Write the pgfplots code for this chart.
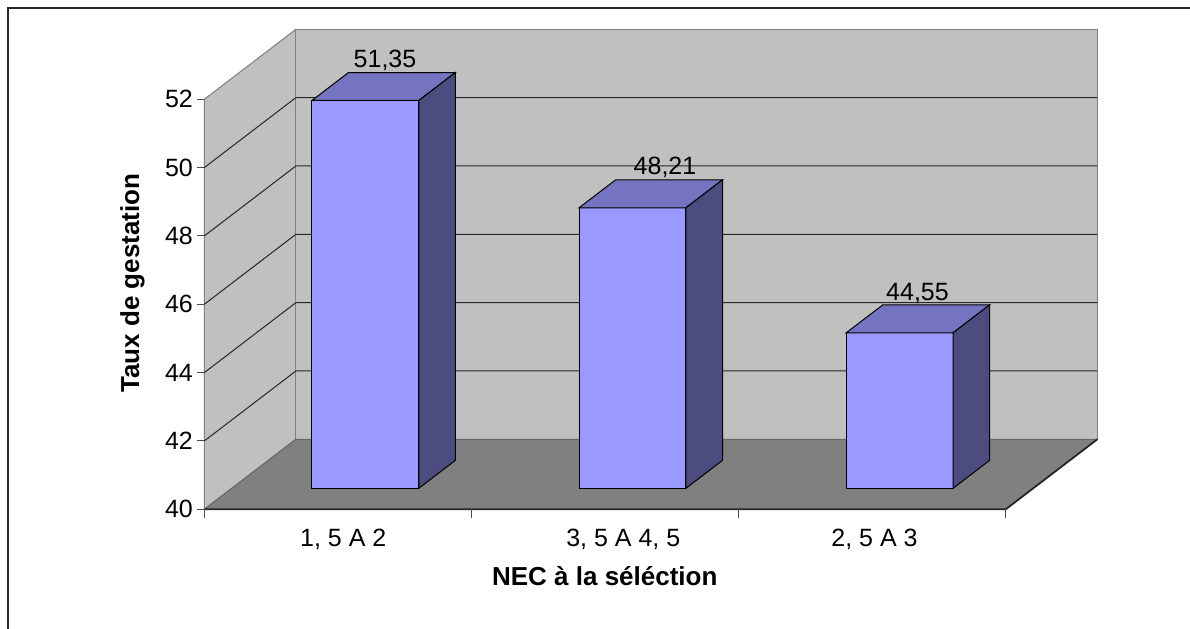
\documentclass[border=0pt]{standalone}
\usepackage{pgfplots}
\pgfplotsset{compat=1.18}
\usepackage{fontspec}
\setmainfont{Liberation Sans}
\definecolor{wall}{HTML}{C0C0C0}
\definecolor{floorc}{HTML}{808080}
\definecolor{barfront}{HTML}{9999FF}
\definecolor{bartop}{HTML}{7474C0}
\definecolor{barside}{HTML}{4C4C80}
\begin{document}
\begin{tikzpicture}
\useasboundingbox (-102.15pt,-59.35pt) rectangle (492.85pt,254.65pt);
\draw[line width=1pt, black!85] (-97.9pt,-80pt) -- (-97.9pt,250.9pt) -- (520pt,250.9pt);
\begin{axis}[
  scale only axis,
  width=446.5pt, height=240pt,
  xmin=0, xmax=3.3429, ymin=40, ymax=54.048,
  clip=false,
  axis line style={draw=none},
  major tick length=0pt,
  xtick={0.5203,1.5685,2.509},
  xticklabels={{1, 5 A 2},{3, 5 A 4, 5},{2, 5 A 3}},
  ytick={40,42,44,46,48,50,52},
  xtick pos=bottom, ytick pos=left,
  /pgf/number format/assume math mode=true,
  tick label style={font=\fontsize{12.5}{15}\selectfont},
  xticklabel style={anchor=base, inner sep=0pt, yshift=-18.7pt},
  yticklabel style={anchor=east, inner sep=0pt, xshift=-5.5pt},
  xlabel={NEC à la séléction},
  ylabel={Taux de gestation},
  xlabel style={at={(axis description cs:0.4485,-0.1583)}, anchor=base, font=\bfseries\fontsize{13}{15}\selectfont},
  ylabel style={at={(axis description cs:-0.0804,0.4715)}, anchor=center, font=\bfseries\fontsize{13}{15}\selectfont},
]
% left wall
\addplot[fill=wall, draw=black!50, line width=0.5pt, mark=none]
  coordinates {(0,40) (0.3429,42.048) (0.3429,54.048) (0,52)} -- cycle;
% back wall
\addplot[fill=wall, draw=black!50, line width=0.5pt, mark=none]
  coordinates {(0.3429,42.048) (3.3429,42.048) (3.3429,54.048) (0.3429,54.048)} -- cycle;
% floor
\addplot[fill=floorc, draw=black!60, line width=0.5pt, mark=none]
  coordinates {(0,40) (3,40) (3.3429,42.048) (0.3429,42.048)} -- cycle;
\addplot[draw=black!85, line width=0.9pt, mark=none]
  coordinates {(0,40) (3,40) (3.3429,42.048)};
% gridlines
\addplot[black!85, line width=0.5pt, mark=none] coordinates {(0,42) (0.3429,44.048) (3.3429,44.048)};
\addplot[black!85, line width=0.5pt, mark=none] coordinates {(0,44) (0.3429,46.048) (3.3429,46.048)};
\addplot[black!85, line width=0.5pt, mark=none] coordinates {(0,46) (0.3429,48.048) (3.3429,48.048)};
\addplot[black!85, line width=0.5pt, mark=none] coordinates {(0,48) (0.3429,50.048) (3.3429,50.048)};
\addplot[black!85, line width=0.5pt, mark=none] coordinates {(0,50) (0.3429,52.048) (3.3429,52.048)};
% tick marks
\addplot[black!70, line width=0.5pt, mark=none] coordinates {(0,40) (0,39.754)};
\addplot[black!70, line width=0.5pt, mark=none] coordinates {(1,40) (1,39.754)};
\addplot[black!70, line width=0.5pt, mark=none] coordinates {(2,40) (2,39.754)};
\addplot[black!70, line width=0.5pt, mark=none] coordinates {(3,40) (3,39.754)};
\addplot[black!70, line width=0.5pt, mark=none] coordinates {(0,40) (-0.02845,40)};
\addplot[black!70, line width=0.5pt, mark=none] coordinates {(0,42) (-0.02845,42)};
\addplot[black!70, line width=0.5pt, mark=none] coordinates {(0,44) (-0.02845,44)};
\addplot[black!70, line width=0.5pt, mark=none] coordinates {(0,46) (-0.02845,46)};
\addplot[black!70, line width=0.5pt, mark=none] coordinates {(0,48) (-0.02845,48)};
\addplot[black!70, line width=0.5pt, mark=none] coordinates {(0,50) (-0.02845,50)};
\addplot[black!70, line width=0.5pt, mark=none] coordinates {(0,52) (-0.02845,52)};
% bar 1 : 51.35
\addplot[fill=barfront, draw=black, line width=0.5pt, mark=none]
  coordinates {(0.40287,40.6144) (0.80287,40.6144) (0.80287,51.9644) (0.40287,51.9644)} -- cycle;
\addplot[fill=bartop, draw=black, line width=0.5pt, mark=none]
  coordinates {(0.40287,51.9644) (0.80287,51.9644) (0.94003,52.7836) (0.54003,52.7836)} -- cycle;
\addplot[fill=barside, draw=black, line width=0.5pt, mark=none]
  coordinates {(0.80287,40.6144) (0.94003,41.4336) (0.94003,52.7836) (0.80287,51.9644)} -- cycle;
% bar 2 : 48.21
\addplot[fill=barfront, draw=black, line width=0.5pt, mark=none]
  coordinates {(1.40287,40.6144) (1.80287,40.6144) (1.80287,48.8244) (1.40287,48.8244)} -- cycle;
\addplot[fill=bartop, draw=black, line width=0.5pt, mark=none]
  coordinates {(1.40287,48.8244) (1.80287,48.8244) (1.94003,49.6436) (1.54003,49.6436)} -- cycle;
\addplot[fill=barside, draw=black, line width=0.5pt, mark=none]
  coordinates {(1.80287,40.6144) (1.94003,41.4336) (1.94003,49.6436) (1.80287,48.8244)} -- cycle;
% bar 3 : 44.55
\addplot[fill=barfront, draw=black, line width=0.5pt, mark=none]
  coordinates {(2.40287,40.6144) (2.80287,40.6144) (2.80287,45.1644) (2.40287,45.1644)} -- cycle;
\addplot[fill=bartop, draw=black, line width=0.5pt, mark=none]
  coordinates {(2.40287,45.1644) (2.80287,45.1644) (2.94003,45.9836) (2.54003,45.9836)} -- cycle;
\addplot[fill=barside, draw=black, line width=0.5pt, mark=none]
  coordinates {(2.80287,40.6144) (2.94003,41.4336) (2.94003,45.9836) (2.80287,45.1644)} -- cycle;
% value labels
\addplot[draw=none, mark=none, nodes near coords, point meta=explicit symbolic,
  every node near coord/.append style={font=\fontsize{12.5}{15}\selectfont, inner sep=0pt, yshift=0.6pt}]
  table[meta=label] {
x y label
0.6765 52.7836 51,35
1.7246 49.6436 48,21
2.6699 45.9836 44,55
};
\end{axis}
\end{tikzpicture}
\end{document}
